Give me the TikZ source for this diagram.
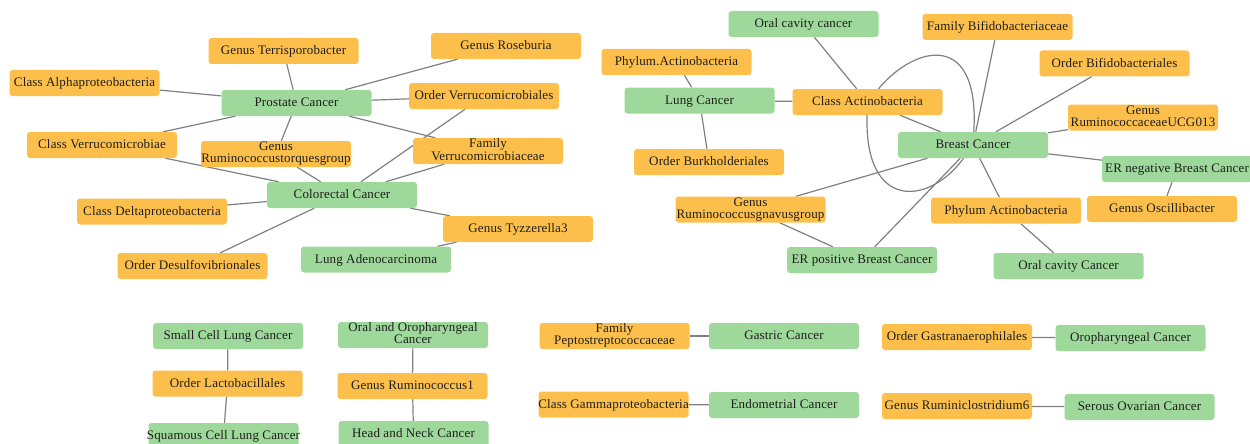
\documentclass[tikz,border=0pt]{standalone}
\usepackage{fontspec}
\setmainfont{Liberation Serif}[LetterSpace=1.2]
\usetikzlibrary{backgrounds}
\definecolor{orangebox}{RGB}{253,191,76}
\definecolor{greenbox}{RGB}{158,216,154}
\definecolor{edgegray}{RGB}{128,128,128}
\definecolor{textdark}{RGB}{30,30,30}
\newcommand{\one}[1]{\makebox[140pt]{\rule[-2.6pt]{0pt}{12.6pt}#1}}
\newcommand{\two}[2]{\makebox[140pt]{\begin{tabular}{@{}c@{}}#1\\#2\end{tabular}}}
\tikzset{
  basebox/.style={rectangle, rounded corners=3pt, minimum width=150pt, minimum height=26pt,
    inner xsep=5pt, inner ysep=0pt, text=textdark, font=\fontsize{13}{11.5}\selectfont},
  taxon/.style={basebox, fill=orangebox},
  cancer/.style={basebox, fill=greenbox},
  link/.style={draw=edgegray, line width=1.2pt}
}
\begin{document}
\begin{tikzpicture}[x=1pt, y=-1pt]
\useasboundingbox (0,0) rectangle (1250,444);
% ---------- top-left cluster ----------
\node[taxon]  (alpha)   at (84.5,83)   {\one{Class Alphaproteobacteria}};
\node[cancer] (prost)   at (296.5,103) {\one{Prostate Cancer}};
\node[taxon]  (terri)   at (283.5,51)  {\one{Genus Terrisporobacter}};
\node[taxon]  (rose)    at (506,46)    {\one{Genus Roseburia}};
\node[taxon]  (overr)   at (484,96)    {\one{Order Verrucomicrobiales}};
\node[taxon]  (cverr)   at (102,145)   {\one{Class Verrucomicrobiae}};
\node[taxon]  (grtq)    at (276,154)   {\two{Genus}{Ruminococcustorquesgroup}};
\node[taxon]  (fverr)   at (488,151)   {\two{Family}{Verrucomicrobiaceae}};
\node[cancer] (colo)    at (342,195)   {\one{Colorectal Cancer}};
\node[taxon]  (delta)   at (152,211.5) {\one{Class Deltaproteobacteria}};
\node[taxon]  (desulfo) at (192.5,266) {\one{Order Desulfovibrionales}};
\node[taxon]  (tyz)     at (518,229)   {\one{Genus Tyzzerella3}};
\node[cancer] (ladeno)  at (376,259.5) {\one{Lung Adenocarcinoma}};
% ---------- top-right cluster ----------
\node[cancer] (ocavA)   at (803.5,24)   {\one{Oral cavity cancer}};
\node[taxon]  (phylA)   at (676.5,62)   {\one{Phylum.Actinobacteria}};
\node[cancer] (lung)    at (699.5,100.5){\one{Lung Cancer}};
\node[taxon]  (cact)    at (867.5,102)  {\one{Class Actinobacteria}};
\node[taxon]  (burk)    at (709,162)    {\one{Order Burkholderiales}};
\node[taxon]  (fbif)    at (997.5,27)   {\one{Family Bifidobacteriaceae}};
\node[taxon]  (obif)    at (1114.5,63.5){\one{Order Bifidobacteriales}};
\node[taxon]  (gucg)    at (1143,117.5) {\two{Genus}{RuminococcaceaeUCG013}};
\node[cancer] (breast)  at (973,145)    {\one{Breast Cancer}};
\node[cancer] (erneg)   at (1177,169)   {\one{ER negative Breast Cancer}};
\node[taxon]  (oscil)   at (1162,209)   {\one{Genus Oscillibacter}};
\node[taxon]  (phylB)   at (1006,210.5) {\one{Phylum Actinobacteria}};
\node[cancer] (ocavB)   at (1068.5,266) {\one{Oral cavity Cancer}};
\node[taxon]  (gnav)    at (750.5,209.5){\two{Genus}{Ruminococcusgnavusgroup}};
\node[cancer] (erpos)   at (862,260)    {\one{ER positive Breast Cancer}};
% ---------- bottom ----------
\node[cancer] (sclc)    at (228,336)    {\one{Small Cell Lung Cancer}};
\node[taxon]  (lacto)   at (227.5,383.5){\one{Order Lactobacillales}};
\node[cancer] (squam)   at (223.5,436)  {\one{Squamous Cell Lung Cancer}};
\node[cancer] (orophA)  at (413,335)    {\two{Oral and Oropharyngeal}{Cancer}};
\node[taxon]  (rumA)    at (412.5,386)  {\one{Genus Ruminococcus1}};
\node[cancer] (hnc)     at (413.5,434)  {\one{Head and Neck Cancer}};
\node[taxon]  (pepto)   at (614.5,336)  {\two{Family}{Peptostreptococcaceae}};
\node[cancer] (gastric) at (784,336)    {\one{Gastric Cancer}};
\node[taxon]  (gamma)   at (613.5,404.5){\one{Class Gammaproteobacteria}};
\node[cancer] (endo)    at (784,405)    {\one{Endometrial Cancer}};
\node[taxon]  (gastra)  at (957,337)    {\one{Order Gastranaerophilales}};
\node[cancer] (orophB)  at (1130.5,338) {\one{Oropharyngeal Cancer}};
\node[taxon]  (rumcl)   at (957,406)    {\one{Genus Ruminiclostridium6}};
\node[cancer] (serous)  at (1139.5,407) {\one{Serous Ovarian Cancer}};
% ---------- connectors ----------
\begin{scope}[on background layer]
\draw[link] (prost) -- (alpha);
\draw[link] (prost) -- (terri);
\draw[link] (prost) -- (rose);
\draw[link] (prost) -- (overr);
\draw[link] (prost) -- (cverr);
\draw[link] (prost) -- (grtq);
\draw[link] (prost) -- (fverr);
\draw[link] (colo) -- (cverr);
\draw[link] (colo) -- (grtq);
\draw[link] (colo) -- (overr);
\draw[link] (colo) -- (fverr);
\draw[link] (colo) -- (delta);
\draw[link] (colo) -- (desulfo);
\draw[link] (colo) -- (tyz);
\draw[link] (tyz) -- (ladeno);
\draw[link] (ocavA) -- (cact);
\draw[link] (phylA) -- (lung);
\draw[link] (lung) -- (cact);
\draw[link] (lung) -- (burk);
\draw[link] (cact) -- (breast);
\draw[link] (cact) .. controls (915,45) and (980,30) .. (breast);
\draw[link] (cact) .. controls (864,212) and (930,205) .. (breast);
\draw[link] (breast) -- (fbif);
\draw[link] (breast) -- (obif);
\draw[link] (breast) -- (gucg);
\draw[link] (breast) -- (erneg);
\draw[link] (breast) -- (phylB);
\draw[link] (breast) -- (gnav);
\draw[link] (breast) -- (erpos);
\draw[link] (gnav) -- (erpos);
\draw[link] (erneg) -- (oscil);
\draw[link] (phylB) -- (ocavB);
\draw[link] (sclc) -- (lacto);
\draw[link] (lacto) -- (squam);
\draw[link] (orophA) -- (rumA);
\draw[link] (rumA) -- (hnc);
\draw[link] (pepto) -- (gastric);
\draw[link] (gamma) -- (endo);
\draw[link] (gastra) -- (orophB);
\draw[link] (rumcl) -- (serous);
\end{scope}
\end{tikzpicture}
\end{document}
